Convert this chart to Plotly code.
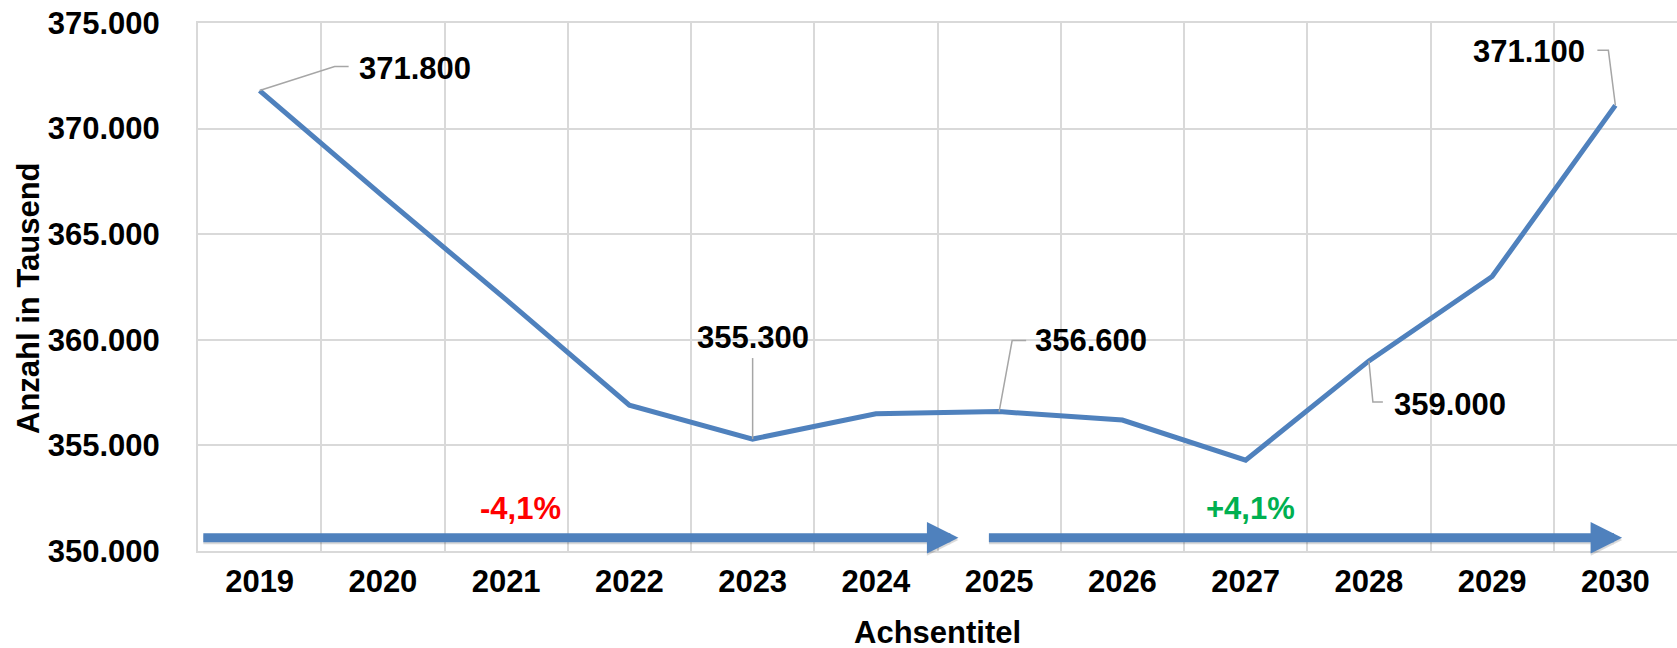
import plotly.graph_objects as go

years = ["2019", "2020", "2021", "2022", "2023", "2024",
         "2025", "2026", "2027", "2028", "2029", "2030"]
values = [371800, 366800, 361900, 356900, 355300, 356500,
          356600, 356200, 354300, 359000, 363000, 371100]
labelled = [0, 4, 6, 9, 11]

change_texts = ["-4,1%", "+4,1%"]
change_colors = ["#FF0000", "#00B050"]

BLUE = "#4F81BD"
GRID = "#D9D9D9"
FONT = "Liberation Sans, Arial, sans-serif"
BOLD = dict(family=FONT, size=31, color="black", weight="bold")


def de_fmt(v):
    return f"{v:,}".replace(",", ".")


fig = go.Figure()
fig.add_trace(go.Scatter(x=years, y=values, mode="lines",
                         line=dict(color=BLUE, width=5), hoverinfo="skip",
                         showlegend=False))

# data labels: (xshift, yshift, xanchor, leader path in px relative to point)
label_style = {
    0: (97, 22, "left", "M0,0 L75,24 L89,24"),
    4: (0, 102, "center", "M0,0 L0,81"),
    6: (34, 71, "left", "M0,0 L13,71 L27,71"),
    9: (23, -44, "left", "M0,0 L4,-41 L14,-41"),
    11: (-28, 54, "right", "M0,0 L-7,55 L-18,55"),
}
for i in labelled:
    xs, ys, xa, path = label_style[i]
    fig.add_annotation(x=i, y=values[i], xref="x", yref="y",
                       text=de_fmt(values[i]),
                       showarrow=False, xshift=xs, yshift=ys, xanchor=xa,
                       yanchor="middle", font=BOLD)
    fig.add_shape(type="path", xref="x", yref="y", xsizemode="pixel",
                  ysizemode="pixel", xanchor=i, yanchor=values[i],
                  path=path, line=dict(color="#A6A6A6", width=1.5))

# trend arrows along the bottom
arrow_y = 350630
for tail, tip in [(-0.461, 5.67), (5.913, 11.055)]:
    fig.add_annotation(x=tip, y=arrow_y - 100, ax=tail, ay=arrow_y - 100,
                       xref="x", yref="y", axref="x", ayref="y", text="",
                       font=dict(size=1), borderpad=0,
                       showarrow=True, arrowhead=2, arrowsize=0.7,
                       arrowwidth=9, arrowcolor="rgba(0,0,0,0.15)")
    fig.add_annotation(x=tip, y=arrow_y, ax=tail, ay=arrow_y,
                       xref="x", yref="y", axref="x", ayref="y", text="",
                       font=dict(size=1), borderpad=0,
                       showarrow=True, arrowhead=2, arrowsize=0.7,
                       arrowwidth=9, arrowcolor=BLUE)

for xpos, txt, col in zip([2.12, 8.04], change_texts, change_colors):
    fig.add_annotation(x=xpos, y=352000, text=txt, showarrow=False,
                       xanchor="center", yanchor="middle",
                       font=dict(family=FONT, size=31, color=col, weight="bold"))

# axis titles
fig.add_annotation(x=0.5, y=0, xref="paper", yref="paper", text="Achsentitel",
                   showarrow=False, yshift=-81, xanchor="center",
                   yanchor="middle", font=BOLD)
fig.add_annotation(x=0, y=0.5, xref="paper", yref="paper",
                   text="Anzahl in Tausend", textangle=-90, showarrow=False,
                   xshift=-170, yshift=-11, xanchor="center", yanchor="middle",
                   font=BOLD)

fig.update_layout(
    width=1677, height=648,
    margin=dict(l=198, r=0, t=23, b=97, autoexpand=False),
    paper_bgcolor="white", plot_bgcolor="white",
    separators=",.",
    font=BOLD,
)
fig.update_xaxes(
    type="category", range=[-0.5, 11.5], tickson="boundaries",
    showgrid=True, gridcolor=GRID, gridwidth=2,
    showline=True, linecolor=GRID, linewidth=2, mirror=True,
    ticks="", ticklabelstandoff=2, automargin=False, tickfont=BOLD,
)
fig.update_yaxes(
    range=[350000, 375000], dtick=5000, tickformat=",d",
    showgrid=True, gridcolor=GRID, gridwidth=2, zeroline=False,
    showline=True, linecolor=GRID, linewidth=2, mirror=True,
    ticks="", ticklabelstandoff=30, automargin=False, tickfont=BOLD,
)

# page body has a default 8px margin; remove it so the figure fills the window
fig.write_html("out.html", config={"displayModeBar": False},
               post_script="document.body.style.margin='0';document.body.style.overflow='hidden';")
